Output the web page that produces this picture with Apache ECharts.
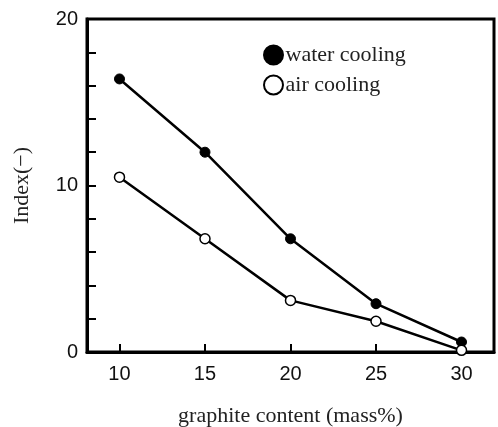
<!DOCTYPE html>
<html lang="en">
<head>
  <meta charset="UTF-8">
  <title>graphite content</title>
  <script src="https://cdn.jsdelivr.net/npm/echarts@6/dist/echarts.min.js"></script>
  <style>
    html, body { margin: 0; padding: 0; background: #fff; }
    #chart { width: 498px; height: 427px; }
  </style>
</head>
<body>
<div id="chart"></div>
<script type="text/javascript">
  // graphite content (mass%)
  var xTicks = [10, 15, 20, 25, 30];
  var waterCooling = [16.4, 12.0, 6.8, 2.9, 0.6];
  var airCooling = [10.5, 6.8, 3.1, 1.85, 0.1];
  var yLabels = [0, 10, 20];

  function pairs(vals) {
    var out = [];
    for (let i = 0; i < xTicks.length; i++) {
      out.push([xTicks[i], vals[i]]);
    }
    return out;
  }

  var serif = { fontFamily: 'Liberation Serif', fontSize: 22, color: '#222' };

  var myChart = echarts.init(document.getElementById('chart'));
  var option = {
    animation: false,
    backgroundColor: '#fff',
    grid: {
      left: 87, right: 4, top: 19, bottom: 75,
      outerBoundsMode: 'none',
      containLabel: false,
      show: true,
      borderColor: '#000',
      borderWidth: 3
    },
    legend: {
      orient: 'vertical',
      left: 263,
      top: 44,
      padding: 0,
      itemWidth: 20,
      itemHeight: 19,
      itemGap: 8,
      textStyle: { fontFamily: 'Liberation Serif', fontSize: 22, color: '#222', padding: [0, 0, 0, -3] },
      data: [
        { name: 'water cooling', icon: 'circle' },
        { name: 'air cooling', icon: 'circle' }
      ]
    },
    xAxis: {
      type: 'value',
      min: 8.1,
      max: 31.9,
      name: 'graphite content (mass%)',
      nameLocation: 'middle',
      nameGap: 53,
      nameTextStyle: serif,
      axisLine: { show: true, lineStyle: { color: '#000', width: 3 } },
      axisTick: { show: true, inside: true, length: 8, lineStyle: { color: '#000', width: 2 }, customValues: xTicks },
      axisLabel: { customValues: xTicks, margin: 12, fontFamily: 'Liberation Sans', fontSize: 20, color: '#111' },
      splitLine: { show: false }
    },
    yAxis: {
      type: 'value',
      min: 0,
      max: 20,
      interval: 2,
      name: 'Index(−)',
      nameLocation: 'middle',
      nameGap: 54,
      nameTextStyle: serif,
      axisLine: { show: true, lineStyle: { color: '#000', width: 3 } },
      axisTick: { show: true, inside: true, length: 9, lineStyle: { color: '#000', width: 2 } },
      axisLabel: {
        margin: 9,
        fontFamily: 'Liberation Sans', fontSize: 20, color: '#111',
        formatter: function (v) { return yLabels.indexOf(v) >= 0 ? String(v) : ''; }
      },
      splitLine: { show: false }
    },
    series: [
      {
        name: 'water cooling',
        type: 'line',
        data: pairs(waterCooling),
        symbol: 'circle',
        symbolSize: 10,
        lineStyle: { color: '#000', width: 2.5 },
        itemStyle: { color: '#000', borderColor: '#000', borderWidth: 1 }
      },
      {
        name: 'air cooling',
        type: 'line',
        data: pairs(airCooling),
        symbol: 'circle',
        symbolSize: 10,
        lineStyle: { color: '#000', width: 2.5 },
        itemStyle: { color: '#fff', borderColor: '#000', borderWidth: 1.5 }
      }
    ]
  };
  myChart.setOption(option);
</script>
</body>
</html>
